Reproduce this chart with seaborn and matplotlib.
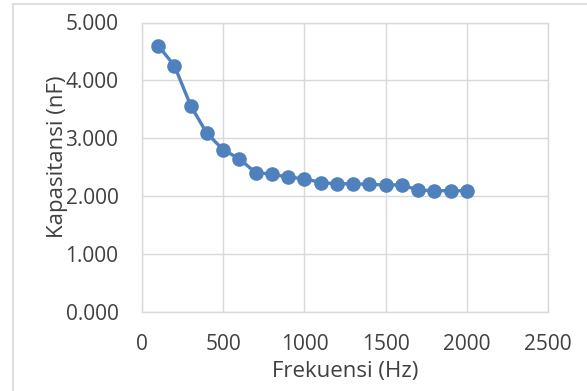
import matplotlib
matplotlib.use("Agg")
import matplotlib.pyplot as plt
import seaborn as sns
import pandas as pd
from matplotlib.lines import Line2D

frekuensi = [100, 200, 300, 400, 500, 600, 700, 800, 900, 1000,
             1100, 1200, 1300, 1400, 1500, 1600, 1700, 1800, 1900, 2000]
kapasitansi = [4.60, 4.25, 3.56, 3.08, 2.80, 2.64, 2.40, 2.38, 2.32, 2.30,
               2.23, 2.21, 2.21, 2.20, 2.19, 2.19, 2.10, 2.09, 2.09, 2.09]
x_ticks = [0, 500, 1000, 1500, 2000, 2500]
y_ticks = [0, 1, 2, 3, 4, 5]
y_tick_labels = ["0.000", "1.000", "2.000", "3.000", "4.000", "5.000"]

df = pd.DataFrame({"Frekuensi (Hz)": frekuensi, "Kapasitansi (nF)": kapasitansi})

sns.set_style("white")
plt.rcParams['font.family'] = ['Open Sans', 'DejaVu Sans']

fig = plt.figure(figsize=(5.87, 3.91), dpi=100)
W, H = 587, 391
ax = fig.add_axes([142 / W, 1 - 311.5 / H, (548 - 142) / W, (311.5 - 22.5) / H])

blue = "#4F81BD"
sns.lineplot(data=df, x="Frekuensi (Hz)", y="Kapasitansi (nF)", ax=ax,
             color=blue, linewidth=2.4, marker="o", markersize=10.5,
             markeredgewidth=0, markerfacecolor=blue)

ax.set_xlim(0, 2500)
ax.set_ylim(0, 5)
ax.set_xticks(x_ticks)
ax.set_xticklabels([str(t) for t in x_ticks])
ax.set_yticks(y_ticks)
ax.set_yticklabels(y_tick_labels)
ax.grid(True, color="#D9D9D9", linewidth=1)
ax.set_axisbelow(True)
for s in ax.spines.values():
    s.set_color("#D9D9D9")
    s.set_linewidth(1)
ax.tick_params(axis="both", length=0, labelsize=15, colors="#404040")
ax.tick_params(axis="y", pad=17)
ax.tick_params(axis="x", pad=16)
ax.set_xlabel("Frekuensi (Hz)", fontsize=16, color="#404040")
ax.set_ylabel("Kapasitansi (nF)", fontsize=16, color="#404040")
ax.xaxis.label.set_va("center")
ax.yaxis.label.set_va("center")
ax.yaxis.label.set_ha("center")
ax.xaxis.set_label_coords(0.5, -0.209)
ax.yaxis.set_label_coords(-0.209, 0.535)

# chart area border (top and left visible)
fig.add_artist(Line2D([13 / W, 1.0], [1 - 3.5 / H, 1 - 3.5 / H], color="#D9D9D9", linewidth=1.2))
fig.add_artist(Line2D([13 / W, 13 / W], [0, 1 - 3.5 / H], color="#D9D9D9", linewidth=1.2))

fig.savefig("out.png", dpi=100)
